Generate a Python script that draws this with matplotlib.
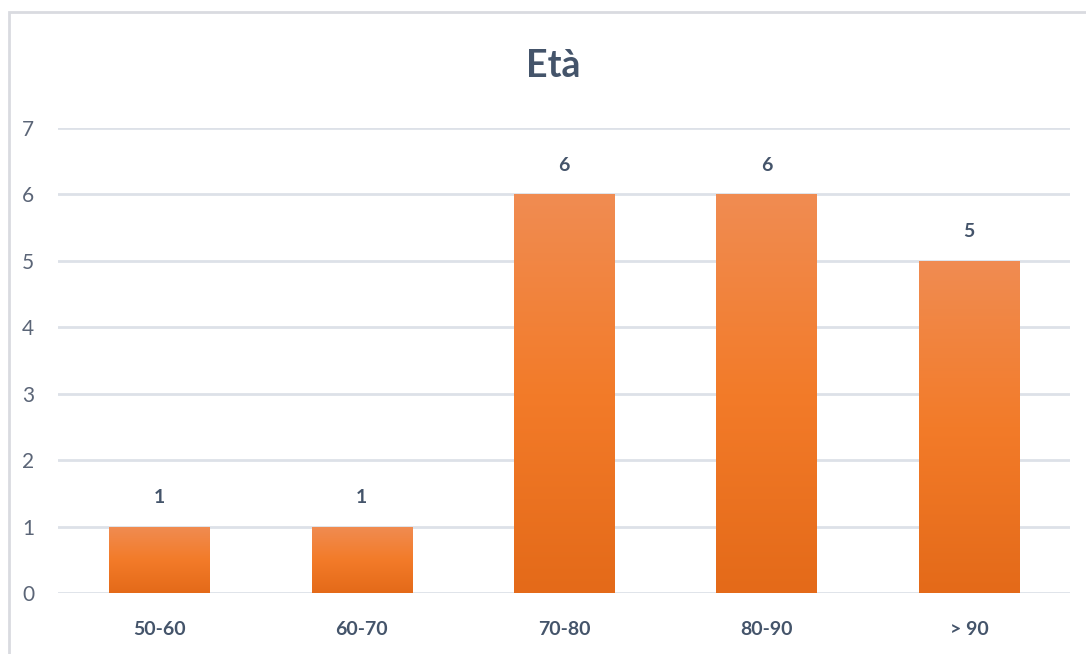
import numpy as np
import matplotlib.pyplot as plt
from matplotlib.colors import LinearSegmentedColormap
from matplotlib.patches import Rectangle

# fasce d'età e numero di pazienti
fasce = ["50-60", "60-70", "70-80", "80-90", "> 90"]
pazienti = [1, 1, 6, 6, 5]
yticks = [0, 1, 2, 3, 4, 5, 6, 7]

plt.rcParams['font.family'] = ['Lato', 'DejaVu Sans']

testo = '#44546a'
griglia = '#dde1e8'
# sfumatura arancio: chiaro in alto, scuro in basso
sfumatura = LinearSegmentedColormap.from_list(
    'arancio', ['#e46a19', '#f37b29', '#f08c52'])

fig = plt.figure(figsize=(10.86, 6.54), dpi=100)
ax = fig.add_axes([0.0534, 0.0933, 0.932, 0.711])

x = np.arange(len(fasce))
bars = ax.bar(x, pazienti, width=0.495, color='none', edgecolor='none', zorder=3)
grad = np.linspace(0, 1, 256).reshape(-1, 1)
for b in bars:
    x0, w, h = b.get_x(), b.get_width(), b.get_height()
    im = ax.imshow(grad, cmap=sfumatura, origin='lower', aspect='auto',
                   extent=[x0, x0 + w, 0, h], zorder=3)
    im.set_clip_path(b)

for xi, v in zip(x, pazienti):
    ax.annotate(str(v), (xi, v), xytext=(0, 21), textcoords='offset points',
                ha='center', va='center', fontsize=14, fontweight='bold',
                color=testo)

ax.set_xlim(-0.5, 4.5)
ax.set_ylim(0, 7)
ax.set_yticks(yticks)
ax.set_xticks(x)
ax.set_xticklabels(fasce, fontsize=14, fontweight='bold', color=testo)
ax.tick_params(axis='x', length=0, pad=20)
ax.tick_params(axis='y', length=0, pad=17, labelsize=15, labelcolor='#5b6577')
ax.grid(axis='y', color=griglia, linewidth=2, zorder=0)
for s in ax.spines.values():
    s.set_visible(False)

fig.text(553 / 1086, 1 - 66 / 654, 'Età', fontsize=27, fontweight='bold',
         color=testo, ha='center', va='center')

# cornice grigia del grafico
fig.patches.append(Rectangle((9 / 1086, -0.1), 1.2, (654 - 12) / 654 + 0.1,
                             transform=fig.transFigure, fill=False,
                             edgecolor='#d9dbe0', linewidth=2))

fig.savefig('out.png', dpi=100)
